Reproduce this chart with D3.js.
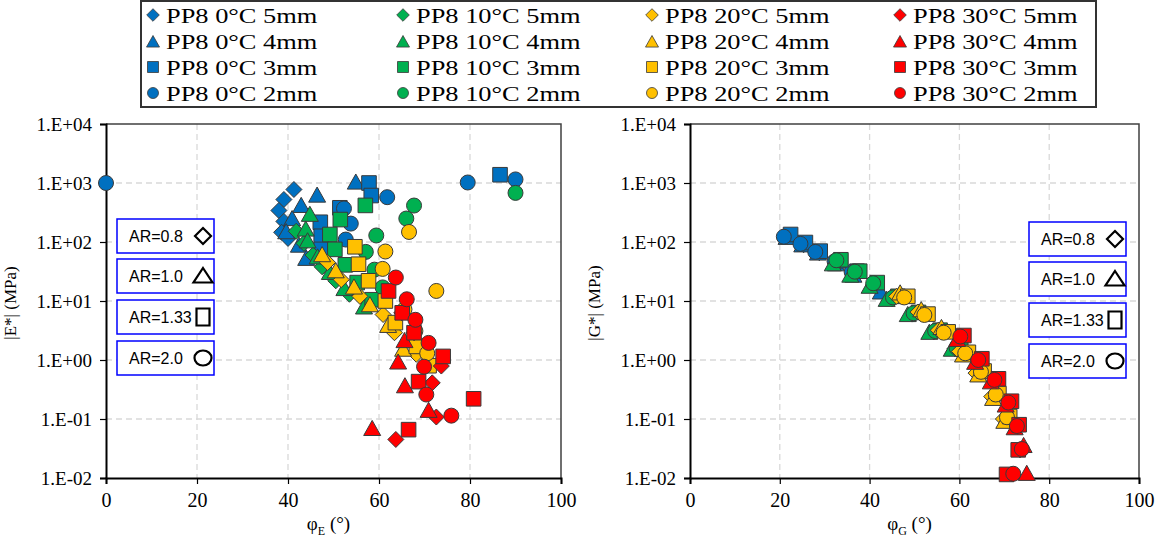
<!DOCTYPE html>
<html><head><meta charset="utf-8">
<script src="https://cdn.jsdelivr.net/npm/d3@7"></script>
<style>body{margin:0;background:#fff}</style>
</head><body><svg id="c" width="1156" height="539"></svg>
<script>
// ---------- categories / ticks ----------
const temps = ["0", "10", "20", "30"];
const sizes = ["5mm", "4mm", "3mm", "2mm"];
const colors = ["#0070C0", "#00B050", "#FFC000", "#FF0000"];
const shapes = ["diamond", "triangle", "square", "circle"];
const xTicks = [0, 20, 40, 60, 80, 100];
const yTicks = [1e-2, 1e-1, 1, 10, 100, 1000, 1e4];
const yTickLabels = ["1.E-02", "1.E-01", "1.E+00", "1.E+01", "1.E+02", "1.E+03", "1.E+04"];
const arLabels = ["AR=0.8", "AR=1.0", "AR=1.33", "AR=2.0"];

// ---------- left chart: |E*| vs phi_E ----------
const E_0C_5mm = [[41.3,776],[39.1,525],[38.0,342],[39.1,223],[38.6,146],[40.0,115]];
const E_0C_4mm = [[54.9,1020],[46.4,613],[42.9,410],[40.9,245],[39.6,147],[42.4,87],[44.0,52]];
const E_0C_3mm = [[86.6,1380],[57.8,1000],[58.3,613],[51.4,380],[47.1,216],[47.3,125],[47.3,75]];
const E_0C_2mm = [[0,1000],[79.5,1020],[90.0,1150],[61.8,575],[52.3,370],[53.8,205],[52.7,110]];
const E_10C_5mm = [[41.8,152],[43.5,95],[45.5,60],[47.5,38],[50.5,22],[53.5,13]];
const E_10C_4mm = [[44.8,290],[43.9,163],[44.3,103],[46.5,55],[49.2,30],[52.4,16],[56.7,7.8]];
const E_10C_3mm = [[57.0,417],[51.5,240],[49.2,134],[50.3,75],[52.6,41],[55.2,20.5],[58.5,10.5]];
const E_10C_2mm = [[90.0,680],[67.7,415],[66.0,250],[59.4,129],[57.1,68],[59.0,34],[60.8,17]];
const E_20C_5mm = [[48.7,45],[51.7,23],[55.8,12],[60.9,5.9],[63.4,2.9],[68.2,1.25]];
const E_20C_4mm = [[47.5,60],[50.5,32],[54.5,17],[58.0,8.5],[62.0,3.8],[65.3,1.5]];
const E_20C_3mm = [[54.7,83],[55.5,42],[57.7,22],[61.4,10],[63.6,4.3],[68.2,1.7],[71.0,0.8]];
const E_20C_2mm = [[66.6,148],[61.4,69],[60.8,35],[72.6,14.8],[65.6,7.2],[68.0,3.1],[70.6,1.3]];
const E_30C_5mm = [[65.0,6.3],[67.7,2.9],[73.7,0.79],[71.7,0.41],[72.6,0.108],[63.7,0.045]];
const E_30C_4mm = [[65.6,2.1],[64.2,0.91],[65.7,0.36],[70.9,0.138],[58.5,0.068]];
const E_30C_3mm = [[62.1,14.8],[65.1,6.3],[67.7,2.9],[74.1,1.15],[68.7,0.43],[80.8,0.22],[66.5,0.066]];
const E_30C_2mm = [[63.7,25],[66.1,10.7],[68.0,4.8],[70.9,1.95],[69.9,0.77],[70.4,0.26],[75.9,0.114]];

// ---------- right chart: |G*| vs phi_G ----------
const G_0C_5mm = [[21.8,125],[25.3,90],[28.8,66],[32.8,45],[36.8,30]];
const G_0C_4mm = [[21.5,118],[25.0,88],[28.5,64],[32.5,42],[36.4,27],[42.5,14]];
const G_0C_3mm = [[22.4,134],[25.7,98],[29.0,70],[33.5,48],[37.2,32]];
const G_0C_2mm = [[20.9,123],[24.6,93],[27.9,68],[32.2,47],[36.0,31]];
const G_10C_5mm = [[33.0,46],[37.0,30],[41.0,19],[45.0,11],[49.5,6],[54.3,3],[59.0,1.55]];
const G_10C_4mm = [[31.8,42],[35.7,27],[40.0,17.5],[43.8,10.5],[48.5,5.8],[53.3,2.9],[58.3,1.5]];
const G_10C_3mm = [[33.6,50],[37.8,32],[41.7,20.5],[46.3,12],[50.9,6.4],[55.7,3.2],[60.3,1.7]];
const G_10C_2mm = [[32.6,49],[36.7,31.4],[40.8,20],[45.2,11.5],[49.8,6.2],[54.6,3.1],[59.4,1.6]];
const G_20C_5mm = [[46.0,12],[50.8,6.5],[55.3,3.2],[60.0,1.4],[63.7,0.6],[67.2,0.24],[69.8,0.1]];
const G_20C_4mm = [[46.8,13.5],[51.5,7],[56.0,3.5],[60.8,1.2],[64.2,0.55],[67.5,0.22],[70.0,0.09]];
const G_20C_3mm = [[48.5,12],[53.0,6],[57.5,3],[62.0,1.35],[65.5,0.65],[68.8,0.27],[71.2,0.11]];
const G_20C_2mm = [[47.7,11.5],[52.2,5.8],[56.5,2.9],[61.3,1.3],[64.8,0.63],[68.1,0.26],[70.6,0.107]];
const G_30C_5mm = [[60.5,2.4],[64.6,1.0],[68.2,0.45],[71.2,0.19],[73.0,0.075],[73.5,0.03]];
const G_30C_4mm = [[59.5,2.2],[63.5,0.9],[67.0,0.42],[70.3,0.17],[72.3,0.07],[74.3,0.035],[75.0,0.0118]];
const G_30C_3mm = [[61.0,2.6],[65.0,1.05],[68.7,0.48],[71.6,0.2],[73.3,0.08],[73.1,0.03],[70.5,0.0115]];
const G_30C_2mm = [[60.2,2.5],[64.2,1.0],[67.8,0.46],[70.9,0.19],[72.8,0.076],[73.9,0.031],[72.0,0.0118]];

const leftSeries = [
  [E_0C_5mm, E_0C_4mm, E_0C_3mm, E_0C_2mm],
  [E_10C_5mm, E_10C_4mm, E_10C_3mm, E_10C_2mm],
  [E_20C_5mm, E_20C_4mm, E_20C_3mm, E_20C_2mm],
  [E_30C_5mm, E_30C_4mm, E_30C_3mm, E_30C_2mm]];
const rightSeries = [
  [G_0C_5mm, G_0C_4mm, G_0C_3mm, G_0C_2mm],
  [G_10C_5mm, G_10C_4mm, G_10C_3mm, G_10C_2mm],
  [G_20C_5mm, G_20C_4mm, G_20C_3mm, G_20C_2mm],
  [G_30C_5mm, G_30C_4mm, G_30C_3mm, G_30C_2mm]];

// ---------- drawing ----------
const svg = d3.select("#c");
const SERIF = "'Liberation Serif','Times New Roman',serif";
const SANS = "'Liberation Sans',Arial,sans-serif";

function shapePath(shape, s) {
  const p = d3.path();
  if (shape === "circle") { p.arc(0, 0, s, 0, 2 * Math.PI); p.closePath(); }
  else if (shape === "square") { p.rect(-s, -s, 2 * s, 2 * s); }
  else if (shape === "diamond") { p.moveTo(0, -s); p.lineTo(s, 0); p.lineTo(0, s); p.lineTo(-s, 0); p.closePath(); }
  else { p.moveTo(0, -s); p.lineTo(s, s * 0.78); p.lineTo(-s, s * 0.78); p.closePath(); }
  return p.toString();
}
const markerSize = { circle: 7.5, square: 7.3, diamond: 8, triangle: 8.5 };

function drawChart(opt) {
  const x = d3.scaleLinear().domain([0, 100]).range([opt.x0, opt.x1]);
  const y = d3.scaleLog().domain([1e-2, 1e4]).range([opt.y1, opt.y0]);
  const g = svg.append("g");

  // grid
  g.append("g").selectAll("line").data(xTicks.slice(1, -1)).join("line")
    .attr("x1", d => x(d)).attr("x2", d => x(d)).attr("y1", opt.y0).attr("y2", opt.y1)
    .attr("stroke", "#d9d9d9").attr("stroke-width", 1.3).attr("stroke-dasharray", "6,4");
  g.append("g").selectAll("line").data(yTicks.slice(1, -1)).join("line")
    .attr("y1", d => y(d)).attr("y2", d => y(d)).attr("x1", opt.x0).attr("x2", opt.x1)
    .attr("stroke", "#d9d9d9").attr("stroke-width", 1.3).attr("stroke-dasharray", "6,4");

  // border top/right
  g.append("path").attr("d", `M${opt.x0},${opt.y0}H${opt.x1}V${opt.y1}`)
    .attr("fill", "none").attr("stroke", "#404040").attr("stroke-width", 1.5);

  // axes
  const ya = d3.axisLeft(y).tickValues(yTicks).tickFormat((d, i) => yTickLabels[i]).tickSize(6).tickPadding(8);
  const yg = g.append("g").attr("transform", `translate(${opt.x0},0)`).call(ya);
  yg.select(".domain").attr("stroke", "#000").attr("stroke-width", 2);
  yg.selectAll(".tick line").attr("stroke", "#000").attr("stroke-width", 1.2);
  yg.selectAll("text").attr("font-family", SERIF).attr("font-size", 19).attr("fill", "#000");

  const xa = d3.axisBottom(x).tickValues(xTicks).tickSize(6).tickPadding(9);
  const xg = g.append("g").attr("transform", `translate(0,${opt.y1})`).call(xa);
  xg.select(".domain").attr("stroke", "#000").attr("stroke-width", 2);
  xg.selectAll(".tick line").attr("stroke", "#000").attr("stroke-width", 1.2);
  xg.selectAll("text").attr("font-family", SERIF).attr("font-size", 20).attr("fill", "#000");

  // titles
  const yt = g.append("text").attr("transform", `translate(${opt.ytx},${(opt.y0 + opt.y1) / 2 + 2}) rotate(-90)`)
    .attr("text-anchor", "middle").attr("font-family", SERIF).attr("font-size", 17).attr("fill", "#000");
  yt.text(opt.ytitle);
  const xt = g.append("text").attr("x", (opt.x0 + opt.x1) / 2 - 5).attr("y", 530)
    .attr("text-anchor", "middle").attr("font-family", SERIF).attr("font-size", 19).attr("fill", "#000");
  xt.append("tspan").text("φ");
  xt.append("tspan").attr("font-size", 12).attr("dy", 5).text(opt.sub);
  xt.append("tspan").attr("dy", -5).text(" (°)");

  // AR boxes
  arLabels.forEach((lab, i) => {
    const by = opt.boxY[i];
    g.append("rect").attr("x", opt.bx).attr("y", by).attr("width", 97).attr("height", 34)
      .attr("fill", "#fff").attr("stroke", "#0000FF").attr("stroke-width", 1.5);
    g.append("text").attr("x", opt.bx + 12).attr("y", by + 23).attr("font-family", SANS)
      .attr("font-size", 16).attr("fill", "#000").text(lab);
    const sx = opt.bx + 86, sy = by + 17;
    let d;
    if (shapes[i] === "diamond") d = shapePath("diamond", 8);
    else if (shapes[i] === "triangle") d = "M0,-8L9.5,6.5L-9.5,6.5Z";
    else if (shapes[i] === "square") d = "M-6.5,-8.5H6.5V8.5H-6.5Z";
    else d = "M8.5,0A8.5,7.5 0 1 1 -8.5,0A8.5,7.5 0 1 1 8.5,0Z";
    g.append("path").attr("d", d).attr("transform", `translate(${sx},${sy})`)
      .attr("fill", "none").attr("stroke", "#000").attr("stroke-width", 2.2);
  });

  // markers (legend order: later series on top)
  opt.series.forEach((row, ti) => {
    row.forEach((pts, si) => {
      const shp = shapes[si];
      g.append("g").selectAll("path").data(pts).join("path")
        .attr("d", shapePath(shp, markerSize[shp]))
        .attr("transform", d => `translate(${x(d[0])},${y(d[1])})`)
        .attr("fill", colors[ti]).attr("stroke", "#3a3a3a").attr("stroke-width", 1);
    });
  });
}

drawChart({ x0: 106, x1: 561, y0: 124, y1: 478, series: leftSeries, ytitle: "|E*| (MPa)", sub: "E",
  ytx: 16, bx: 117, boxY: [219, 259, 300, 341] });
drawChart({ x0: 690, x1: 1139, y0: 124, y1: 478, series: rightSeries, ytitle: "|G*| (MPa)", sub: "G",
  ytx: 600, bx: 1029, boxY: [222, 262, 303, 344] });

// ---------- legend ----------
const lg = svg.append("g");
lg.append("rect").attr("x", 141).attr("y", 1).attr("width", 955).attr("height", 106)
  .attr("fill", "#fff").attr("stroke", "#333").attr("stroke-width", 2);
const colX = [153, 403, 652, 900];
const rowY = [15, 41, 67, 93];
const legSize = { circle: 5.5, square: 5.5, diamond: 6.3, triangle: 6.5 };
temps.forEach((t, ti) => {
  sizes.forEach((s, si) => {
    const shp = shapes[si];
    lg.append("path").attr("d", shapePath(shp, legSize[shp]))
      .attr("transform", `translate(${colX[ti]},${rowY[si] + (shp === "triangle" ? 1 : 0)})`)
      .attr("fill", colors[ti]).attr("stroke", "#3a3a3a").attr("stroke-width", 0.8);
    lg.append("text").attr("transform", `translate(${colX[ti] + 13},${rowY[si] + 8}) scale(1.2,1)`)
      .attr("font-family", SERIF).attr("font-size", 22).attr("fill", "#000")
      .text(`PP8 ${t}°C ${s}`);
  });
});
</script></body></html>
